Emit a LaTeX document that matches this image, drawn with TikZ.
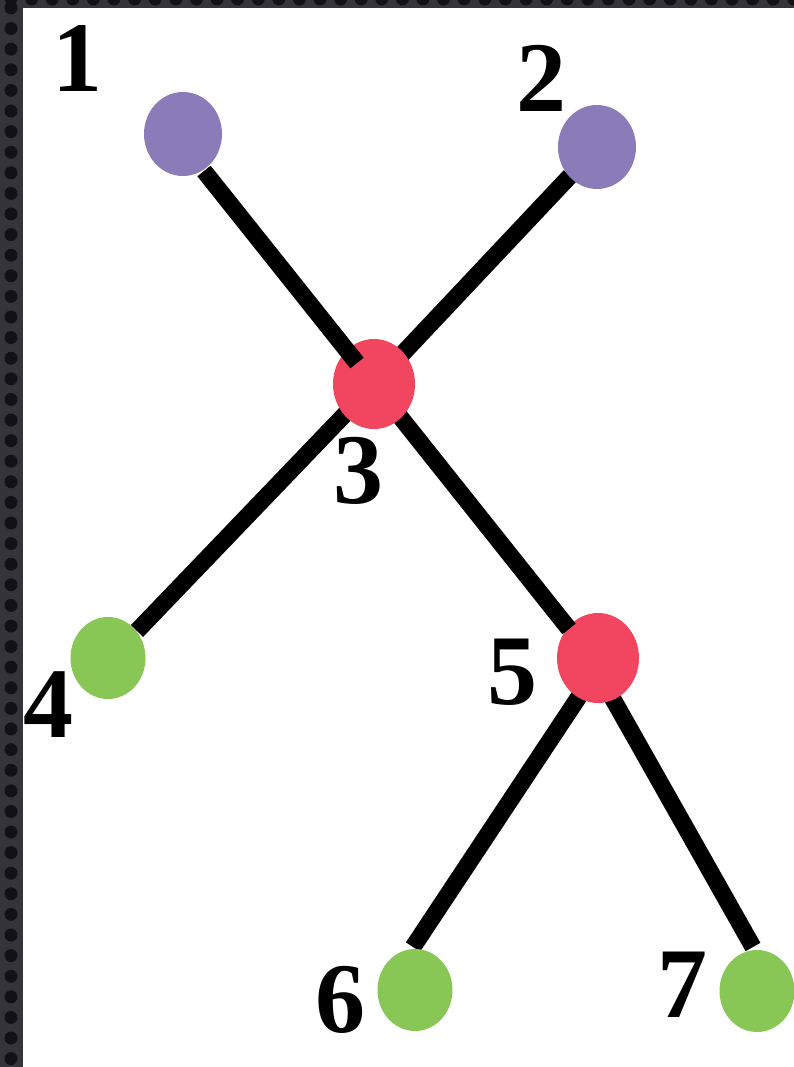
\documentclass[tikz,border=0pt]{standalone}
\usepackage{fontspec}
\setmainfont{Liberation Serif}
\usetikzlibrary{shapes.geometric}
\definecolor{pnode}{HTML}{8B7BB8}
\definecolor{rnode}{HTML}{F24660}
\definecolor{gnode}{HTML}{88C656}
\definecolor{frameA}{HTML}{34343A}
\definecolor{frameB}{HTML}{121216}
\tikzset{
  vtx/.style={ellipse, inner sep=0pt, minimum width=78pt, minimum height=84pt},
  vpurple/.style={vtx, fill=pnode},
  vred/.style={vtx, fill=rnode, minimum width=82pt, minimum height=90pt},
  vgreen/.style={vtx, fill=gnode, minimum width=75pt, minimum height=82pt},
  edge/.style={line width=17pt, black, line cap=butt},
  lbl/.style={font=\fontsize{100}{100}\selectfont\bfseries, inner sep=0pt}
}
\begin{document}
\begin{tikzpicture}[x=1pt,y=-1pt]
\useasboundingbox (0,0) rectangle (794,1067);
\fill[white] (0,0) rectangle (794,1067);
% textured frame
\fill[frameA] (0,0) rectangle (23,1067);
\fill[frameA] (0,0) rectangle (794,8);
\foreach \j in {0,...,51} {\fill[frameB] (11,{8+\j*20.6}) circle (6.5);}
\foreach \i in {0,...,38} {\fill[frameB] ({11+\i*20.6},-1) circle (6.5);}
% centres and connector ends
\coordinate (c1) at (183,134);
\coordinate (c2) at (597,147);
\coordinate (c3) at (374,384);
\coordinate (c4) at (108,658);
\coordinate (c5) at (598,658);
\coordinate (c6) at (415,990);
\coordinate (c7) at (757,991);
\coordinate (e1) at (204,171);
\coordinate (e13) at (357,363);
\coordinate (e2) at (570,176);
\coordinate (e4) at (137,631);
\coordinate (e35) at (569,629);
\coordinate (s56) at (592,677);
\coordinate (e6) at (413,947);
\coordinate (s57) at (596,669);
\coordinate (e7) at (753,947);
% lower connectors
\draw[edge] (s56) -- (e6);
\draw[edge] (s57) -- (e7);
\node[vred] (n5) at (c5) {};
\draw[edge] (c3) -- (e35);
\draw[edge] (e2) -- (c3);
\draw[edge] (c3) -- (e4);
\node[vred] (n3) at (c3) {};
\draw[edge] (e1) -- (e13);
\node[vpurple] (n1) at (c1) {};
\node[vpurple] (n2) at (c2) {};
\node[vgreen] (n4) at (c4) {};
\node[vgreen] (n6) at (c6) {};
\node[vgreen] (n7) at (c7) {};
% labels
\node[lbl] (l1) at (77,58) {1};
\node[lbl] (l2) at (541,78) {2};
\node[lbl] (l3) at (358,471) {3};
\node[lbl] (l4) at (48,705) {4};
\node[lbl] (l5) at (512,672) {5};
\node[lbl] (l6) at (340,1000) {6};
\node[lbl] (l7) at (682,985) {7};
\end{tikzpicture}
\end{document}
